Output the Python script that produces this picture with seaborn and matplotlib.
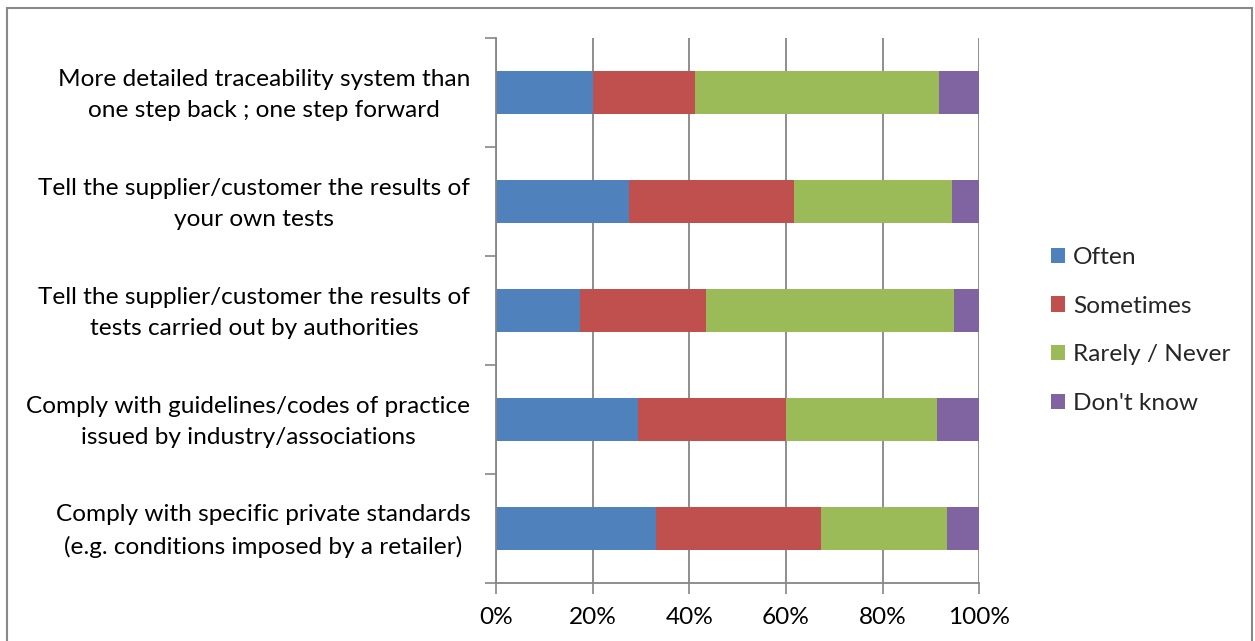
import matplotlib
matplotlib.use("Agg")
import matplotlib.pyplot as plt
import matplotlib.transforms as mtransforms
import seaborn as sns
import pandas as pd
import numpy as np
from matplotlib.patches import Patch, Rectangle

categories = [
    "More detailed traceability system than\none step back ; one step forward",
    "Tell the supplier/customer the results of\nyour own tests",
    "Tell the supplier/customer the results of\ntests carried out by authorities",
    "Comply with guidelines/codes of practice\nissued by industry/associations",
    "Comply with specific private standards\n(e.g. conditions imposed by a retailer)",
]
series = ["Often", "Sometimes", "Rarely / Never", "Don't know"]
often = [20.1, 27.6, 17.4, 29.4, 33.2]
sometimes = [21.1, 34.1, 26.1, 30.7, 34.0]
rarely = [50.5, 32.6, 51.2, 31.1, 26.1]
dontknow = [8.3, 5.7, 5.3, 8.8, 6.7]
xticks = [0, 20, 40, 60, 80, 100]
colors = ["#4F81BD", "#C0504D", "#9BBB59", "#8064A2"]

sns.set_theme(style="white")
plt.rcParams["font.family"] = ["Lato", "DejaVu Sans"]
FS = 17.6

df = pd.DataFrame({"cat": categories, "Often": often, "Sometimes": sometimes,
                   "Rarely / Never": rarely, "Don't know": dontknow})
tot = df[series].sum(axis=1)
for s in series:
    df[s] = df[s] / tot * 100
cum = df[series].cumsum(axis=1)

fig = plt.figure(figsize=(12.55, 6.41), dpi=100)
ax = fig.add_axes([496/1255, 1-583/641, (979.3-496)/1255, (583-38)/641])

for s, c in reversed(list(zip(series, colors))):
    sns.barplot(data=pd.DataFrame({"cat": categories, "v": cum[s]}), x="v", y="cat",
                orient="h", color=c, width=0.4, saturation=1, ax=ax, edgecolor="none",
                linewidth=0, zorder=3)

ax.set_xlim(0, 100)
ax.set_ylim(4.5, -0.5)
ax.set_xlabel("")
ax.set_ylabel("")
ax.set_xticks(xticks)
ax.set_xticklabels([f"{v}%" for v in xticks], fontsize=FS, color="#000000")
ax.set_yticks(range(len(categories)))
ax.set_yticklabels(categories, fontsize=FS, color="#000000", multialignment="center",
                   linespacing=1.56)
ax.set_yticks(np.arange(-0.5, 5, 1), minor=True)
ax.tick_params(axis="y", which="major", length=0, pad=18.5)
ax.tick_params(axis="y", which="minor", length=8, width=1.2, color="#868686", left=True)
ax.tick_params(axis="x", which="major", length=8, width=1.2, color="#868686", bottom=True, pad=9.5)
ax.grid(axis="x", color="#868686", linewidth=1.3, zorder=1)
ax.set_axisbelow(True)
for sp in ["top", "right"]:
    ax.spines[sp].set_visible(False)
for sp in ["left", "bottom"]:
    ax.spines[sp].set_color("#868686")
    ax.spines[sp].set_linewidth(1.3)
    ax.spines[sp].set_zorder(4)

shift = mtransforms.ScaledTranslation(0, 4.5 / 100, fig.dpi_scale_trans)
for lab in ax.get_yticklabels():
    lab.set_transform(lab.get_transform() + shift)

handles = [Patch(facecolor=c, edgecolor="none") for c in colors]
fig.legend(handles, series, loc="center left", bbox_to_anchor=(1029/1255, 1-330.5/641),
           frameon=False, fontsize=FS, handlelength=0.58, handleheight=0.58,
           handletextpad=0.33, labelspacing=1.13)

border = Rectangle((7/1255, -0.05), (1252-7)/1255, 1.05-8/641, transform=fig.transFigure,
                   fill=False, edgecolor="#888888", linewidth=1.5)
fig.patches.append(border)

fig.savefig("out.png", dpi=100, facecolor="white")
